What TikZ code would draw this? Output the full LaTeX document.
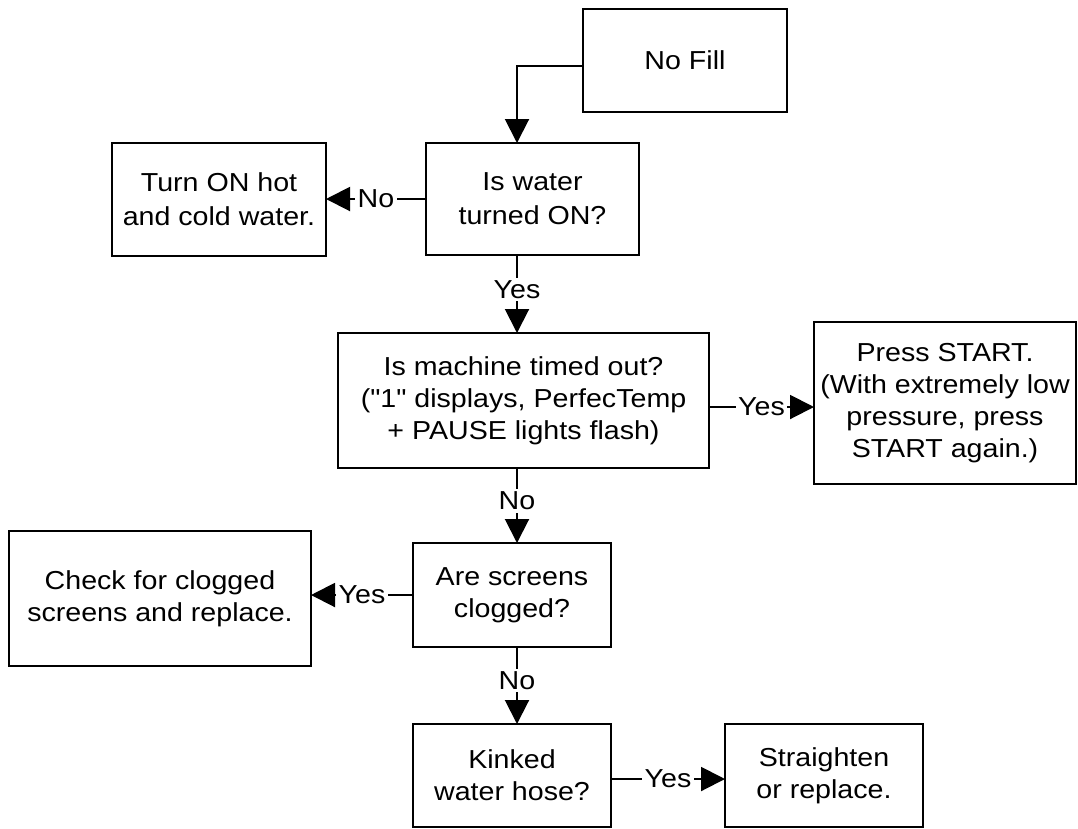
\documentclass[tikz,border=0pt]{standalone}
\usepackage{fontspec}
\setmainfont{Liberation Sans}[FakeStretch=1.1, Ligatures=TeXOff]
\usetikzlibrary{arrows.meta}
\begin{document}
\begin{tikzpicture}[x=1pt,y=-1pt,
  box/.style={draw=black, line width=2pt, fill=white, inner sep=0pt, outer sep=0pt,
    align=center, font=\fontsize{26}{32}\selectfont},
  conn/.style={draw=black, line width=2pt, -{Triangle[length=24pt,width=24pt]}},
  lbl/.style={fill=white, inner sep=2.5pt, font=\fontsize{26}{30}\selectfont}]
\useasboundingbox (0,0) rectangle (1078,828);
\fill[white] (0,0) rectangle (1078,828);
\coordinate (spine) at (517,0);

\node[box, minimum width=204pt, minimum height=103pt] (nofill) at (685,60.5) {No Fill};
\node[box, minimum width=213pt, minimum height=112pt, font=\fontsize{26}{34}\selectfont] (q1) at (532.5,199) {Is water\\turned ON?};
\node[box, minimum width=214pt, minimum height=113pt, font=\fontsize{26}{34}\selectfont] (turnon) at (219,199.5) {Turn ON hot\\and cold water.};
\node[box, minimum width=371pt, minimum height=135pt] (q2) at (523.5,400.5) {Is machine timed out?\\("1" displays, PerfecTemp\\+ PAUSE lights flash)};
\node[box, minimum width=262pt, minimum height=162pt] (press) at (945,403) {Press START.\\(With extremely low\\pressure, press\\START again.)};
\node[box, minimum width=198pt, minimum height=104pt] (q3) at (512,595) {Are screens\\clogged?};
\node[box, minimum width=302pt, minimum height=135pt] (check) at (160,598.5) {Check for clogged\\screens and replace.};
\node[box, minimum width=198pt, minimum height=103pt] (q4) at (512,775.5) {Kinked\\water hose?};
\node[box, minimum width=198pt, minimum height=103pt] (straighten) at (824,775.5) {Straighten\\or replace.};

\draw[conn] ([yshift=-5.5pt]nofill.west) -| (spine |- q1.north);
\draw[conn] (q1.west) -- node[lbl]{No} (turnon.east |- q1.west);
\draw[conn] (spine |- q1.south) -- node[lbl, pos=0.44]{Yes} (spine |- q2.north);
\draw[conn] ([yshift=-6.5pt]q2.east) coordinate (a1) -- node[lbl]{Yes} (press.west |- a1);
\draw[conn] (spine |- q2.south) -- node[lbl, pos=0.44]{No} (spine |- q3.north);
\draw[conn] (q3.west) -- node[lbl]{Yes} (check.east |- q3.west);
\draw[conn] (spine |- q3.south) -- node[lbl, pos=0.44]{No} (spine |- q4.north);
\draw[conn] ([yshift=-3.5pt]q4.east) coordinate (a2) -- node[lbl]{Yes} (straighten.west |- a2);
\end{tikzpicture}
\end{document}
